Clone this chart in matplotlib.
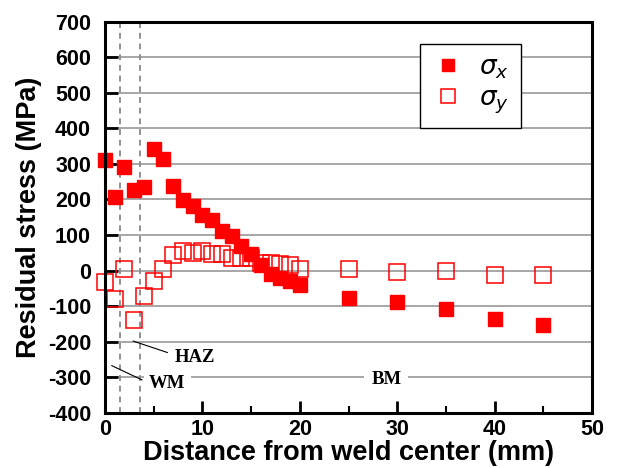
import matplotlib
matplotlib.use("Agg")
import matplotlib.pyplot as plt

# Residual stress across the weld
x_sx = [0, 1, 2, 3, 4, 5, 6, 7, 8, 9, 10, 11, 12, 13, 14, 15, 16, 17, 18, 19, 20,
        25, 30, 35, 40, 45]
sigma_x = [310, 208, 290, 226, 236, 343, 313, 239, 199, 182, 155, 141, 112, 96, 70, 47,
           15, -10, -20, -29, -39, -77, -88, -107, -136, -153]

x_sy = [0, 1, 2, 3, 4, 5, 6, 7, 8, 9, 10, 11, 12, 13, 14, 15, 16, 17, 18, 19, 20,
        25, 30, 35, 40, 45]
sigma_y = [-31, -80, 4, -139, -72, -29, 4, 43, 55, 50, 55, 48, 46, 35, 35, 35,
           21, 22, 20, 16, 5, 5, -4, -1, -12, -12]

zone_bounds = [1.5, 3.6]
red = "#ff0000"

plt.rcParams["font.family"] = ["Liberation Sans", "DejaVu Sans"]
plt.rcParams["axes.unicode_minus"] = False

fig = plt.figure(figsize=(6.17, 4.68), dpi=100)
ax = fig.add_axes([105 / 617, 1 - 413 / 468, 487 / 617, 391.5 / 468])

# grid
for v in range(-400, 701, 100):
    ax.axhline(v, color="#a0a0a0", lw=1.3, zorder=0)

for b in zone_bounds:
    ax.axvline(b, color="#909090", lw=1.4, ls=(0, (3, 2.5)), zorder=1)

ax.plot(x_sx, sigma_x, "s", color=red, ms=10, mec=red, label=r"$\sigma_x$",
        zorder=4, clip_on=False)
ax.plot(x_sy, sigma_y, "s", mfc="none", mec=red, ms=12, mew=1.1,
        label=r"$\sigma_y$", zorder=3, clip_on=False)

# zone labels
ax.text(9.2, -243, "HAZ", family="Liberation Serif", weight="bold", fontsize=13.5,
        ha="center", va="center", bbox=dict(facecolor="white", edgecolor="none", pad=2), zorder=2)
ax.text(6.4, -318, "WM", family="Liberation Serif", weight="bold", fontsize=13.5,
        ha="center", va="center", bbox=dict(facecolor="white", edgecolor="none", pad=4), zorder=2)
ax.text(28.9, -307, "BM", family="Liberation Serif", weight="bold", fontsize=13.5,
        ha="center", va="center", bbox=dict(facecolor="white", edgecolor="none", pad=5), zorder=2)
ax.plot([2.9, 6.4], [-198, -230], color="black", lw=0.8, zorder=3)
ax.plot([0.7, 3.8], [-267, -307], color="black", lw=0.8, zorder=3)

ax.set_xlim(0, 50)
ax.set_ylim(-400, 700)
ax.set_xticks(range(0, 51, 10))
ax.set_xticks(range(5, 50, 10), minor=True)
ax.set_yticks(range(-400, 701, 100))
ax.tick_params(axis="both", which="major", direction="in", length=9, width=2,
               labelsize=15.5, pad=4)
ax.tick_params(axis="y", pad=10)
ax.tick_params(axis="x", which="minor", direction="in", length=5, width=1.5)
for lab in ax.get_xticklabels() + ax.get_yticklabels():
    lab.set_fontweight("bold")
for sp in ax.spines.values():
    sp.set_linewidth(2.2)
    sp.set_zorder(6)

ax.set_xlabel("Distance from weld center (mm)", fontsize=19.5, fontweight="bold", labelpad=0)
ax.set_ylabel("Residual stress (MPa)", fontsize=19.5, fontweight="bold", labelpad=4)

leg = ax.legend(loc="upper left", bbox_to_anchor=(0.647, 0.943), borderaxespad=0,
                fontsize=19, fancybox=False, framealpha=1, edgecolor="black",
                handlelength=1.2, handletextpad=0.6, borderpad=0.45, labelspacing=0.2,
                markerscale=0.85)
leg.get_frame().set_linewidth(1)
leg.set_zorder(5)

fig.savefig("out.png", dpi=100)
